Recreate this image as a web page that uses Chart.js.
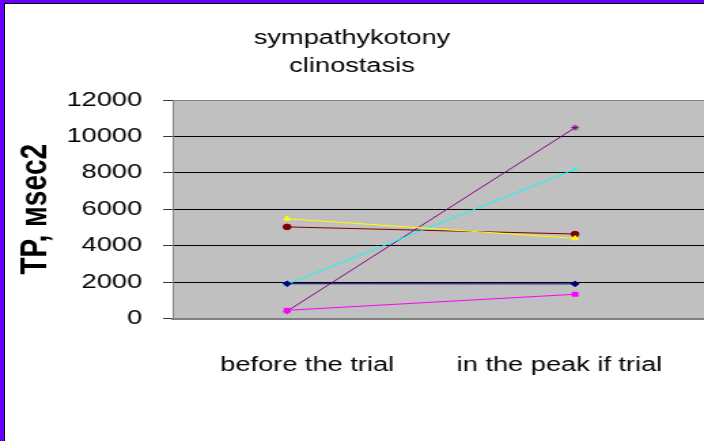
<!DOCTYPE html>
<html>
<head>
<meta charset="utf-8">
<script src="https://cdn.jsdelivr.net/npm/chart.js@4"></script>
<style>
  html, body { margin: 0; padding: 0; background: #fff; width: 704px; height: 441px; overflow: hidden; }
  #wrap { position: relative; width: 704px; height: 441px; overflow: hidden; }
  #grafico { display: block; }
  #moldura {
    position: absolute; left: 0; top: 0; width: 704px; height: 441px; box-sizing: border-box;
    border-left: 4px solid #6600ff; border-top: 3px solid #6600ff;
    box-shadow: inset 1px 1px 0 0 #000; pointer-events: none;
  }
</style>
</head>
<body>
<div id="wrap">
  <!-- bitmap estreito esticado na horizontal, como o grafico original -->
  <canvas id="grafico" width="518" height="441" style="width:704px;height:441px"></canvas>
  <div id="moldura"></div>
</div>
<script>
// dados do grafico
const categorias = ['before the trial', 'in the peak if trial'];
const serieAzul = [1910, 1900];
const serieMagenta = [450, 1330];
const serieAmarela = [5480, 4400];
const serieCiano = [1880, 8200];
const serieRoxa = [400, 10480];
const serieVinho = [5030, 4640];
const ticksY = [0, 2000, 4000, 6000, 8000, 10000, 12000];

const fonte = "'Liberation Sans', Arial, sans-serif";

function pontos(valores) {
    return valores.map((v, i) => ({ x: i, y: v }));
}

function serie(valores, cor, estilo) {
    return {
        data: pontos(valores),
        borderColor: cor,
        backgroundColor: cor,
        borderWidth: 1,
        pointStyle: estilo,
        pointRadius: 2.8,
        pointHoverRadius: 2.8,
        pointBorderWidth: 1,
        tension: 0
    };
}

// fundo cinza da area do grafico
const fundoArea = {
    id: 'fundoArea',
    beforeDraw(chart) {
        const { ctx, chartArea } = chart;
        ctx.save();
        ctx.fillStyle = '#c0c0c0';
        ctx.fillRect(chartArea.left, chartArea.top, chartArea.right - chartArea.left, chartArea.bottom - chartArea.top);
        ctx.restore();
    }
};

const grafico = new Chart(document.querySelector('#grafico'), {
    type: 'line',
    data: {
        datasets: [
            serie(serieAzul, '#000080', 'rectRot'),
            serie(serieMagenta, '#ff00ff', 'rect'),
            serie(serieAmarela, '#ffff00', 'triangle'),
            serie(serieCiano, '#00ffff', 'crossRot'),
            serie(serieRoxa, '#800080', 'star'),
            serie(serieVinho, '#800000', 'circle')
        ]
    },
    options: {
        responsive: false,
        animation: false,
        devicePixelRatio: 1,
        layout: { padding: 0, autoPadding: false },
        plugins: {
            legend: { display: false },
            tooltip: { enabled: false },
            title: {
                display: true,
                text: ['sympathykotony', 'clinostasis'],
                color: '#000',
                font: { family: fonte, size: 20, weight: 'normal', lineHeight: 1.4 },
                padding: { top: 24, bottom: 20 }
            }
        },
        scales: {
            x: {
                type: 'linear',
                min: -0.396,
                max: 1.448,
                afterFit(escala) {
                    escala.height = 122.5;
                    escala.paddingLeft = 0;
                    escala.paddingRight = 0;
                },
                afterBuildTicks(escala) {
                    escala.ticks = [{ value: 0.07 }, { value: 0.946 }];
                },
                grid: { display: false },
                border: { display: true, color: '#808080', width: 2 },
                ticks: {
                    color: '#000',
                    font: { family: fonte, size: 20 },
                    padding: 27,
                    maxRotation: 0,
                    callback: (v, i) => categorias[i]
                }
            },
            y: {
                min: 0,
                max: 12000,
                afterFit(escala) { escala.width = 127.3; },
                afterBuildTicks(escala) {
                    escala.ticks = ticksY.map(v => ({ value: v }));
                },
                grid: {
                    color: ctx => (ctx.tick && (ctx.tick.value === 0 || ctx.tick.value === 12000)) ? '#808080' : '#000',
                    lineWidth: 1,
                    tickLength: 7.3,
                    tickColor: '#333'
                },
                border: { display: true, color: '#808080', width: 1 },
                ticks: {
                    color: '#000',
                    font: { family: fonte, size: 20 },
                    padding: 15.5,
                    callback: v => String(v)
                },
                title: {
                    display: true,
                    text: 'TP, мsec2',
                    color: '#000',
                    font: { family: fonte, size: 28, weight: 'bold' },
                    padding: { top: 9, bottom: 0 }
                }
            }
        }
    },
    plugins: [fundoArea]
});
</script>
</body>
</html>
